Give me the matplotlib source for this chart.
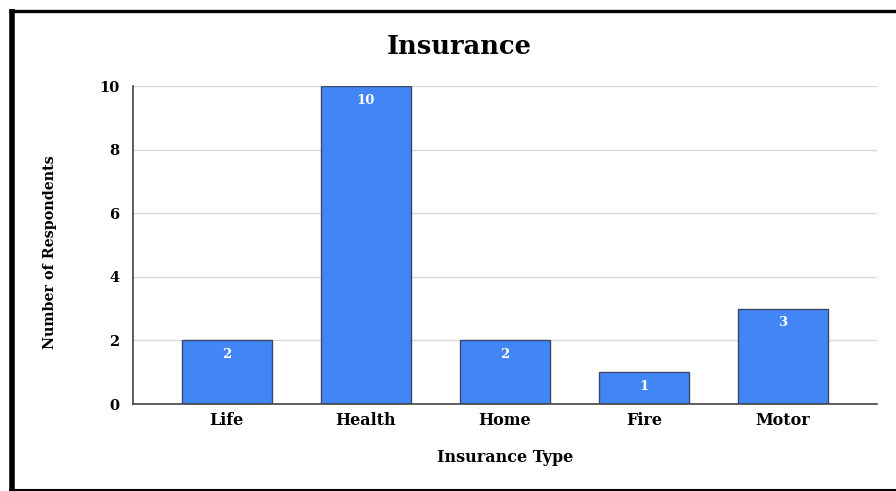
import matplotlib
matplotlib.use("Agg")
import matplotlib.pyplot as plt
from matplotlib.lines import Line2D

categories = ["Life", "Health", "Home", "Fire", "Motor"]
values = [2, 10, 2, 1, 3]
yticks = [0, 2, 4, 6, 8, 10]

plt.rcParams['font.family'] = ['DejaVu Serif']
W, H = 896, 491
fig = plt.figure(figsize=(W/100, H/100), dpi=100)

ax = fig.add_axes([133/W, 1-404/H, (877-133)/W, (404-86)/H])
x = list(range(len(categories)))
ax.bar(x, values, width=0.646, color="#4285F4", edgecolor="#3a4a66", linewidth=1.0, zorder=3)
for xi, v in zip(x, values):
    ax.annotate(str(v), (xi, v), xytext=(0, -14), textcoords="offset pixels",
                ha="center", va="center", color="white", fontsize=9.5, fontweight="bold", zorder=4)

ax.set_xlim(-0.675, len(categories) - 1 + 0.675)
ax.set_ylim(0, 10)
ax.set_yticks(yticks)
ax.set_yticklabels([str(t) for t in yticks], fontsize=10.5, fontweight="bold")
ax.set_xticks(x)
ax.set_xticklabels(categories, fontsize=11.5, fontweight="bold")
ax.tick_params(axis="both", length=0, pad=6)
ax.tick_params(axis="y", pad=10)
ax.grid(axis="y", color="#d9d9d9", linewidth=1, zorder=0)
for s in ["top", "right"]:
    ax.spines[s].set_visible(False)
for s in ["left", "bottom"]:
    ax.spines[s].set_color("#444444")
    ax.spines[s].set_linewidth(1.2)
    ax.spines[s].set_zorder(5)

fig.text(459/W, 1-47/H, "Insurance", ha="center", va="center", fontsize=18.5, fontweight="bold")
fig.text(505/W, 1-458/H, "Insurance Type", ha="center", va="center", fontsize=11.5, fontweight="bold")
fig.text(50/W, 1-252/H, "Number of Respondents", ha="center", va="center", rotation=90, fontsize=10.3, fontweight="bold")

# border
kw = dict(color="black", transform=fig.transFigure, solid_capstyle="butt")
fig.add_artist(Line2D([11.5/W, 11.5/W], [0, 1-9/H], linewidth=4.0, **kw))
fig.add_artist(Line2D([9/W, 1], [1-10.5/H, 1-10.5/H], linewidth=2.4, **kw))
fig.add_artist(Line2D([9/W, 1], [1-489.5/H, 1-489.5/H], linewidth=1.5, **kw))

fig.savefig("out.png", dpi=100)
